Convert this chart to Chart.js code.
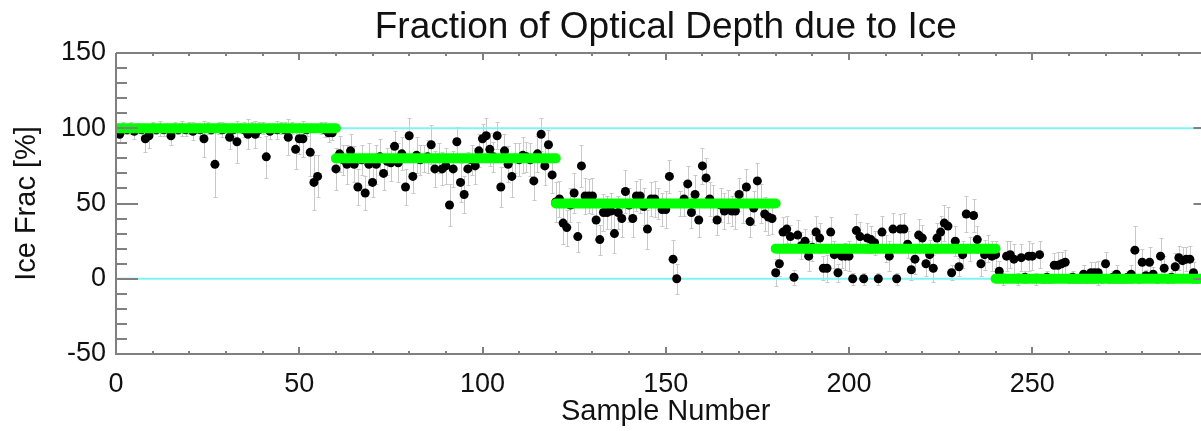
<!DOCTYPE html>
<html>
<head>
<meta charset="utf-8">
<script src="https://cdn.jsdelivr.net/npm/chart.js@4"></script>
<style>
  html, body { margin: 0; background: #ffffff; }
  #wrap { width: 1201px; height: 431px; overflow: hidden; position: relative; }
  canvas { display: block; }
</style>
</head>
<body>
<!-- the plot runs past the right edge of the window, as in the picture -->
<div id="wrap"><canvas id="iceChart" width="1220" height="431"></canvas></div>
<script>
// ice fraction per sample (%), sample number = index
const iceFrac = [
  99, 96, 100, 99, 100, 98, 100, 99, 93, 95, 100, 99, 100, 99, 100, 95, 100, 99, 100, 99,
  100, 98, 100, 99, 93, 100, 99, 76, 100, 99, 100, 94, 99, 91, 100, 99, 96, 100, 96, 99,
  100, 81, 98, 100, 99, 100, 99, 94, 100, 86, 93, 93, 99, 84, 64, 68, 100, 99, 97, 97,
  73, 83, 79, 76, 85, 76, 61, 79, 57, 76, 64, 76, 81, 70, 78, 77, 88, 77, 83, 61,
  95, 68, 82, 79, 80, 81, 89, 73, 80, 73, 75, 49, 73, 91, 64, 56, 73, 79, 75, 85,
  93, 95, 86, 81, 95, 61, 85, 76, 68, 80, 79, 82, 81, 79, 65, 83, 96, 75, 89, 69,
  51, 53, 37, 34, 49, 57, 28, 75, 55, 55, 55, 39, 26, 44, 44, 45, 30, 44, 40, 58,
  49, 40, 55, 55, 48, 33, 53, 53, 50, 46, 46, 68, 13, 0, 50, 53, 63, 44, 56, 39,
  75, 67, 53, 50, 39, 49, 45, 48, 45, 45, 56, 50, 61, 38, 47, 65, 50, 43, 41, 40,
  4, 10, 31, 33, 28, 1, 29, 22, 25, 15, 21, 31, 27, 7, 7, 31, 16, 4, 15, 15,
  15, 0, 32, 28, 0, 27, 26, 24, 0, 31, 20, 15, 33, 0, 33, 33, 23, 6, 13, 29,
  27, 10, 16, 7, 27, 31, 37, 35, 4, 25, 8, 16, 43, 20, 42, 26, 10, 16, 20, 15,
  16, 5, 0, 15, 16, 13, 0, 14, 1, 15, 15, 0, 16, 0, 1, 0, 9, 9, 10, 11,
  0, 1, 0, 0, 3, 0, 4, 4, 4, 0, 10, 0, 1, 3, 0, 0, 1, 3, 19, 0,
  11, 2, 11, 3, 0, 15, 7, 0, 1, 8, 14, 12, 13, 13, 4, 0
];

// error bar half-length per sample (%)
const iceErr = [
  4, 5, 4, 3, 4, 5, 3, 4, 9, 8, 4, 3, 5, 4, 3, 6, 4, 3, 5, 4,
  4, 6, 3, 4, 12, 4, 3, 22, 4, 5, 3, 8, 4, 14, 3, 5, 10, 4, 9, 5,
  4, 14, 5, 3, 6, 4, 5, 12, 4, 13, 10, 12, 4, 16, 18, 14, 4, 5, 6, 5,
  14, 12, 10, 13, 11, 12, 12, 10, 11, 14, 10, 13, 12, 11, 9, 12, 10, 13, 11, 12,
  12, 11, 12, 10, 9, 11, 13, 12, 10, 11, 12, 14, 12, 10, 13, 12, 11, 10, 12, 11,
  10, 12, 11, 10, 9, 13, 11, 12, 14, 10, 11, 12, 10, 11, 13, 12, 11, 13, 10, 12,
  13, 12, 14, 12, 11, 13, 10, 14, 12, 11, 12, 13, 10, 12, 11, 12, 13, 11, 12, 14,
  11, 12, 10, 11, 12, 13, 11, 12, 10, 11, 12, 11, 13, 10, 8, 11, 12, 10, 13, 11,
  12, 13, 11, 12, 10, 11, 12, 11, 10, 12, 11, 13, 12, 10, 11, 12, 13, 11, 12, 10,
  9, 8, 10, 9, 8, 5, 10, 9, 8, 10, 9, 11, 10, 8, 9, 10, 9, 6, 8, 9,
  10, 4, 11, 10, 4, 10, 9, 8, 4, 11, 9, 10, 11, 4, 10, 11, 9, 7, 10, 11,
  9, 8, 10, 9, 10, 11, 12, 13, 5, 10, 6, 9, 12, 8, 11, 9, 8, 10, 9, 10,
  9, 7, 4, 10, 9, 10, 4, 9, 4, 10, 9, 4, 9, 3, 4, 3, 8, 9, 8, 8,
  3, 4, 3, 3, 6, 3, 7, 7, 8, 3, 8, 3, 4, 6, 3, 3, 4, 6, 16, 3,
  9, 4, 10, 5, 3, 12, 8, 3, 4, 9, 8, 9, 8, 9, 7, 3
];

// true ice fraction in each block of samples
const segStart = [0, 60, 120, 180, 240];
const segEnd = [60, 120, 180, 240, 300];
const segTruth = [100, 80, 50, 20, 0];

// cyan reference levels
const refLevels = [0, 100];

const xTickValues = [0, 50, 100, 150, 200, 250];
const yTickValues = [-50, 0, 50, 100, 150];
const X_MIN = 0;
const X_MAX = 300;
const Y_MIN = -50;
const Y_MAX = 150;

const FONT = "'Liberation Sans', Arial, Helvetica, sans-serif";
const TITLE = "Fraction of Optical Depth due to Ice";

let truthPoints = [];
for (let i = 0; i < segTruth.length; i++) {
  truthPoints.push({ x: segStart[i], y: segTruth[i] });
  truthPoints.push({ x: segEnd[i], y: segTruth[i] });
  truthPoints.push({ x: segEnd[i], y: null });
}

let refPoints = [];
refLevels.forEach(function (lvl) {
  refPoints.push({ x: X_MIN, y: lvl });
  refPoints.push({ x: X_MAX, y: lvl });
  refPoints.push({ x: X_MAX, y: null });
});

const samplePoints = iceFrac.map(function (v, i) {
  return { x: i, y: v };
});

// grey error bars with small caps, under the dots
const errorBars = {
  id: "errorBars",
  beforeDatasetsDraw(chart) {
    const { ctx, chartArea, scales } = chart;
    const xs = scales.x;
    const ys = scales.y;
    ctx.save();
    ctx.beginPath();
    ctx.rect(chartArea.left, chartArea.top, chartArea.right - chartArea.left, chartArea.bottom - chartArea.top);
    ctx.clip();
    ctx.strokeStyle = "#c9c9c9";
    ctx.lineWidth = 1;
    iceFrac.forEach(function (v, i) {
      const px = Math.round(xs.getPixelForValue(i)) + 0.5;
      const top = Math.round(ys.getPixelForValue(v + iceErr[i])) + 0.5;
      const bot = Math.round(ys.getPixelForValue(v - iceErr[i])) + 0.5;
      ctx.beginPath();
      ctx.moveTo(px, top);
      ctx.lineTo(px, bot);
      ctx.moveTo(px - 2, top);
      ctx.lineTo(px + 2, top);
      ctx.moveTo(px - 2, bot);
      ctx.lineTo(px + 2, bot);
      ctx.stroke();
    });
    ctx.restore();
  },
};

// IDL-style frame with inward ticks, and the title centred over the plot
const frame = {
  id: "frame",
  afterDraw(chart) {
    const { ctx, chartArea, scales } = chart;
    const xs = scales.x;
    const ys = scales.y;
    const L = chartArea.left, R = chartArea.right, T = chartArea.top, B = chartArea.bottom;
    ctx.save();
    ctx.strokeStyle = "#808080";
    ctx.lineWidth = 2;
    ctx.beginPath();
    ctx.moveTo(L, T);
    ctx.lineTo(L, B);
    ctx.lineTo(R, B);
    ctx.lineTo(R, T);
    ctx.lineTo(L, T);
    ctx.stroke();

    for (let v = Y_MIN; v <= Y_MAX; v += 10) {
      const py = Math.round(ys.getPixelForValue(v));
      const len = yTickValues.includes(v) ? 22 : 11;
      ctx.beginPath();
      ctx.moveTo(L, py);
      ctx.lineTo(L + len, py);
      ctx.moveTo(R, py);
      ctx.lineTo(R - len, py);
      ctx.stroke();
    }
    for (let v = X_MIN; v <= X_MAX; v += 10) {
      const px = Math.round(xs.getPixelForValue(v));
      const len = v % 50 === 0 ? 7 : 3;
      ctx.beginPath();
      ctx.moveTo(px, B);
      ctx.lineTo(px, B - len);
      ctx.moveTo(px, T);
      ctx.lineTo(px, T + len);
      ctx.stroke();
    }

    ctx.fillStyle = "#111111";
    ctx.font = "37px " + FONT;
    ctx.textAlign = "center";
    ctx.textBaseline = "alphabetic";
    ctx.fillText(TITLE, (L + R) / 2, 38);
    ctx.restore();
  },
};

const chart = new Chart(document.getElementById("iceChart"), {
  type: "scatter",
  data: {
    datasets: [
      {
        type: "line",
        label: "truth",
        data: truthPoints,
        borderColor: "#00ff00",
        borderWidth: 10,
        borderCapStyle: "round",
        pointRadius: 0,
        spanGaps: false,
        order: 0,
      },
      {
        label: "samples",
        data: samplePoints,
        backgroundColor: "#000000",
        borderWidth: 0,
        pointRadius: 4.5,
        order: 1,
      },
      {
        type: "line",
        label: "reference",
        data: refPoints,
        borderColor: "#80f4f4",
        borderWidth: 2,
        pointRadius: 0,
        spanGaps: false,
        order: 2,
      },
    ],
  },
  options: {
    responsive: false,
    animation: false,
    layout: { padding: { left: 0, right: 0, top: 53, bottom: 0 } },
    scales: {
      x: {
        type: "linear",
        min: X_MIN,
        max: X_MAX,
        grid: { display: false, drawTicks: false },
        border: { display: false },
        afterBuildTicks: function (scale) {
          scale.ticks = xTickValues.map(function (v) { return { value: v }; });
        },
        afterFit: function (scale) {
          scale.height = 77;
        },
        ticks: {
          autoSkip: false,
          maxRotation: 0,
          padding: 14,
          color: "#111111",
          font: { family: FONT, size: 27 },
        },
        title: {
          display: true,
          text: "Sample Number",
          color: "#111111",
          font: { family: FONT, size: 29 },
          padding: { top: 0, bottom: 2 },
        },
      },
      y: {
        type: "linear",
        min: Y_MIN,
        max: Y_MAX,
        grid: { display: false, drawTicks: false },
        border: { display: false },
        afterBuildTicks: function (scale) {
          scale.ticks = yTickValues.map(function (v) { return { value: v }; });
        },
        afterFit: function (scale) {
          scale.width = 116;
        },
        ticks: {
          autoSkip: false,
          padding: 10,
          color: "#111111",
          font: { family: FONT, size: 27 },
        },
        title: {
          display: true,
          text: "Ice Frac [%]",
          color: "#111111",
          font: { family: FONT, size: 29 },
          padding: { top: 10, bottom: 0 },
        },
      },
    },
    plugins: {
      legend: { display: false },
      tooltip: { enabled: false },
      title: { display: false },
    },
  },
  plugins: [errorBars, frame],
});
</script>
</body>
</html>
